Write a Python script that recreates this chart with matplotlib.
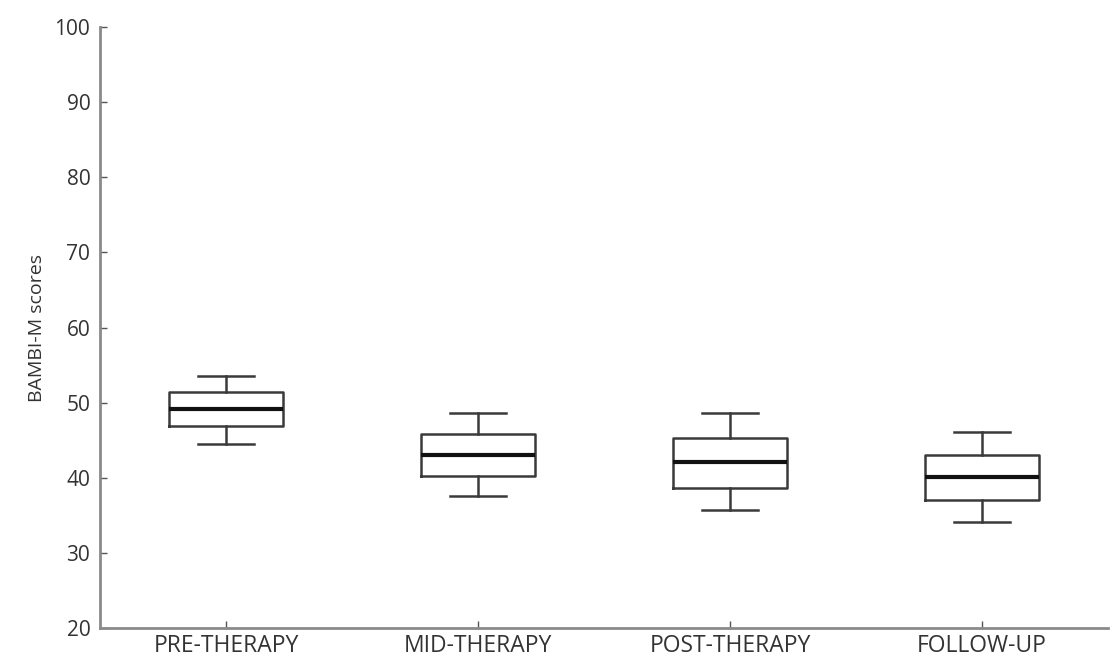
import matplotlib
matplotlib.use('Agg')
import matplotlib.pyplot as plt

# box stats
labels = ['PRE-THERAPY', 'MID-THERAPY', 'POST-THERAPY', 'FOLLOW-UP']
whislo = [44.5, 37.6, 35.7, 34.1]
q1 = [46.85, 40.3, 38.7, 37.1]
med = [49.1, 43.0, 42.1, 40.1]
q3 = [51.4, 45.8, 45.3, 43.0]
whishi = [53.6, 48.6, 48.6, 46.05]

plt.rcParams['font.family'] = ['Open Sans', 'DejaVu Sans']
plt.rcParams['xtick.direction'] = 'in'
plt.rcParams['ytick.direction'] = 'in'

fig = plt.figure(figsize=(11.11, 6.59), dpi=100)
ax = fig.add_axes([0.09, 0.047, 0.9073, 0.912])

stats = []
for i in range(len(labels)):
    stats.append({'label': labels[i], 'whislo': whislo[i], 'q1': q1[i],
                  'med': med[i], 'q3': q3[i], 'whishi': whishi[i], 'fliers': []})

line_col = '#3a3a3a'
ax.bxp(stats, widths=0.45, showfliers=False,
       boxprops=dict(color=line_col, linewidth=1.8),
       whiskerprops=dict(color=line_col, linewidth=1.8),
       capprops=dict(color=line_col, linewidth=1.8),
       medianprops=dict(color='#111111', linewidth=3))

ax.set_xlim(0.5, 4.5)
ax.set_ylim(20, 100)
ax.set_yticks(range(20, 101, 10))

for s in ['top', 'right']:
    ax.spines[s].set_visible(False)
for s in ['left', 'bottom']:
    ax.spines[s].set_color('#8a8a8a')
    ax.spines[s].set_linewidth(2)

ax.tick_params(axis='both', which='major', direction='in', length=5, width=1,
               color='#555555', labelcolor='#333333')
ax.tick_params(axis='y', pad=7, labelsize=15)
ax.tick_params(axis='x', pad=4, labelsize=16.5)
ax.set_ylabel('BAMBI-M scores', fontsize=14, color='#333333', labelpad=6)

fig.savefig('out.png', dpi=100)
